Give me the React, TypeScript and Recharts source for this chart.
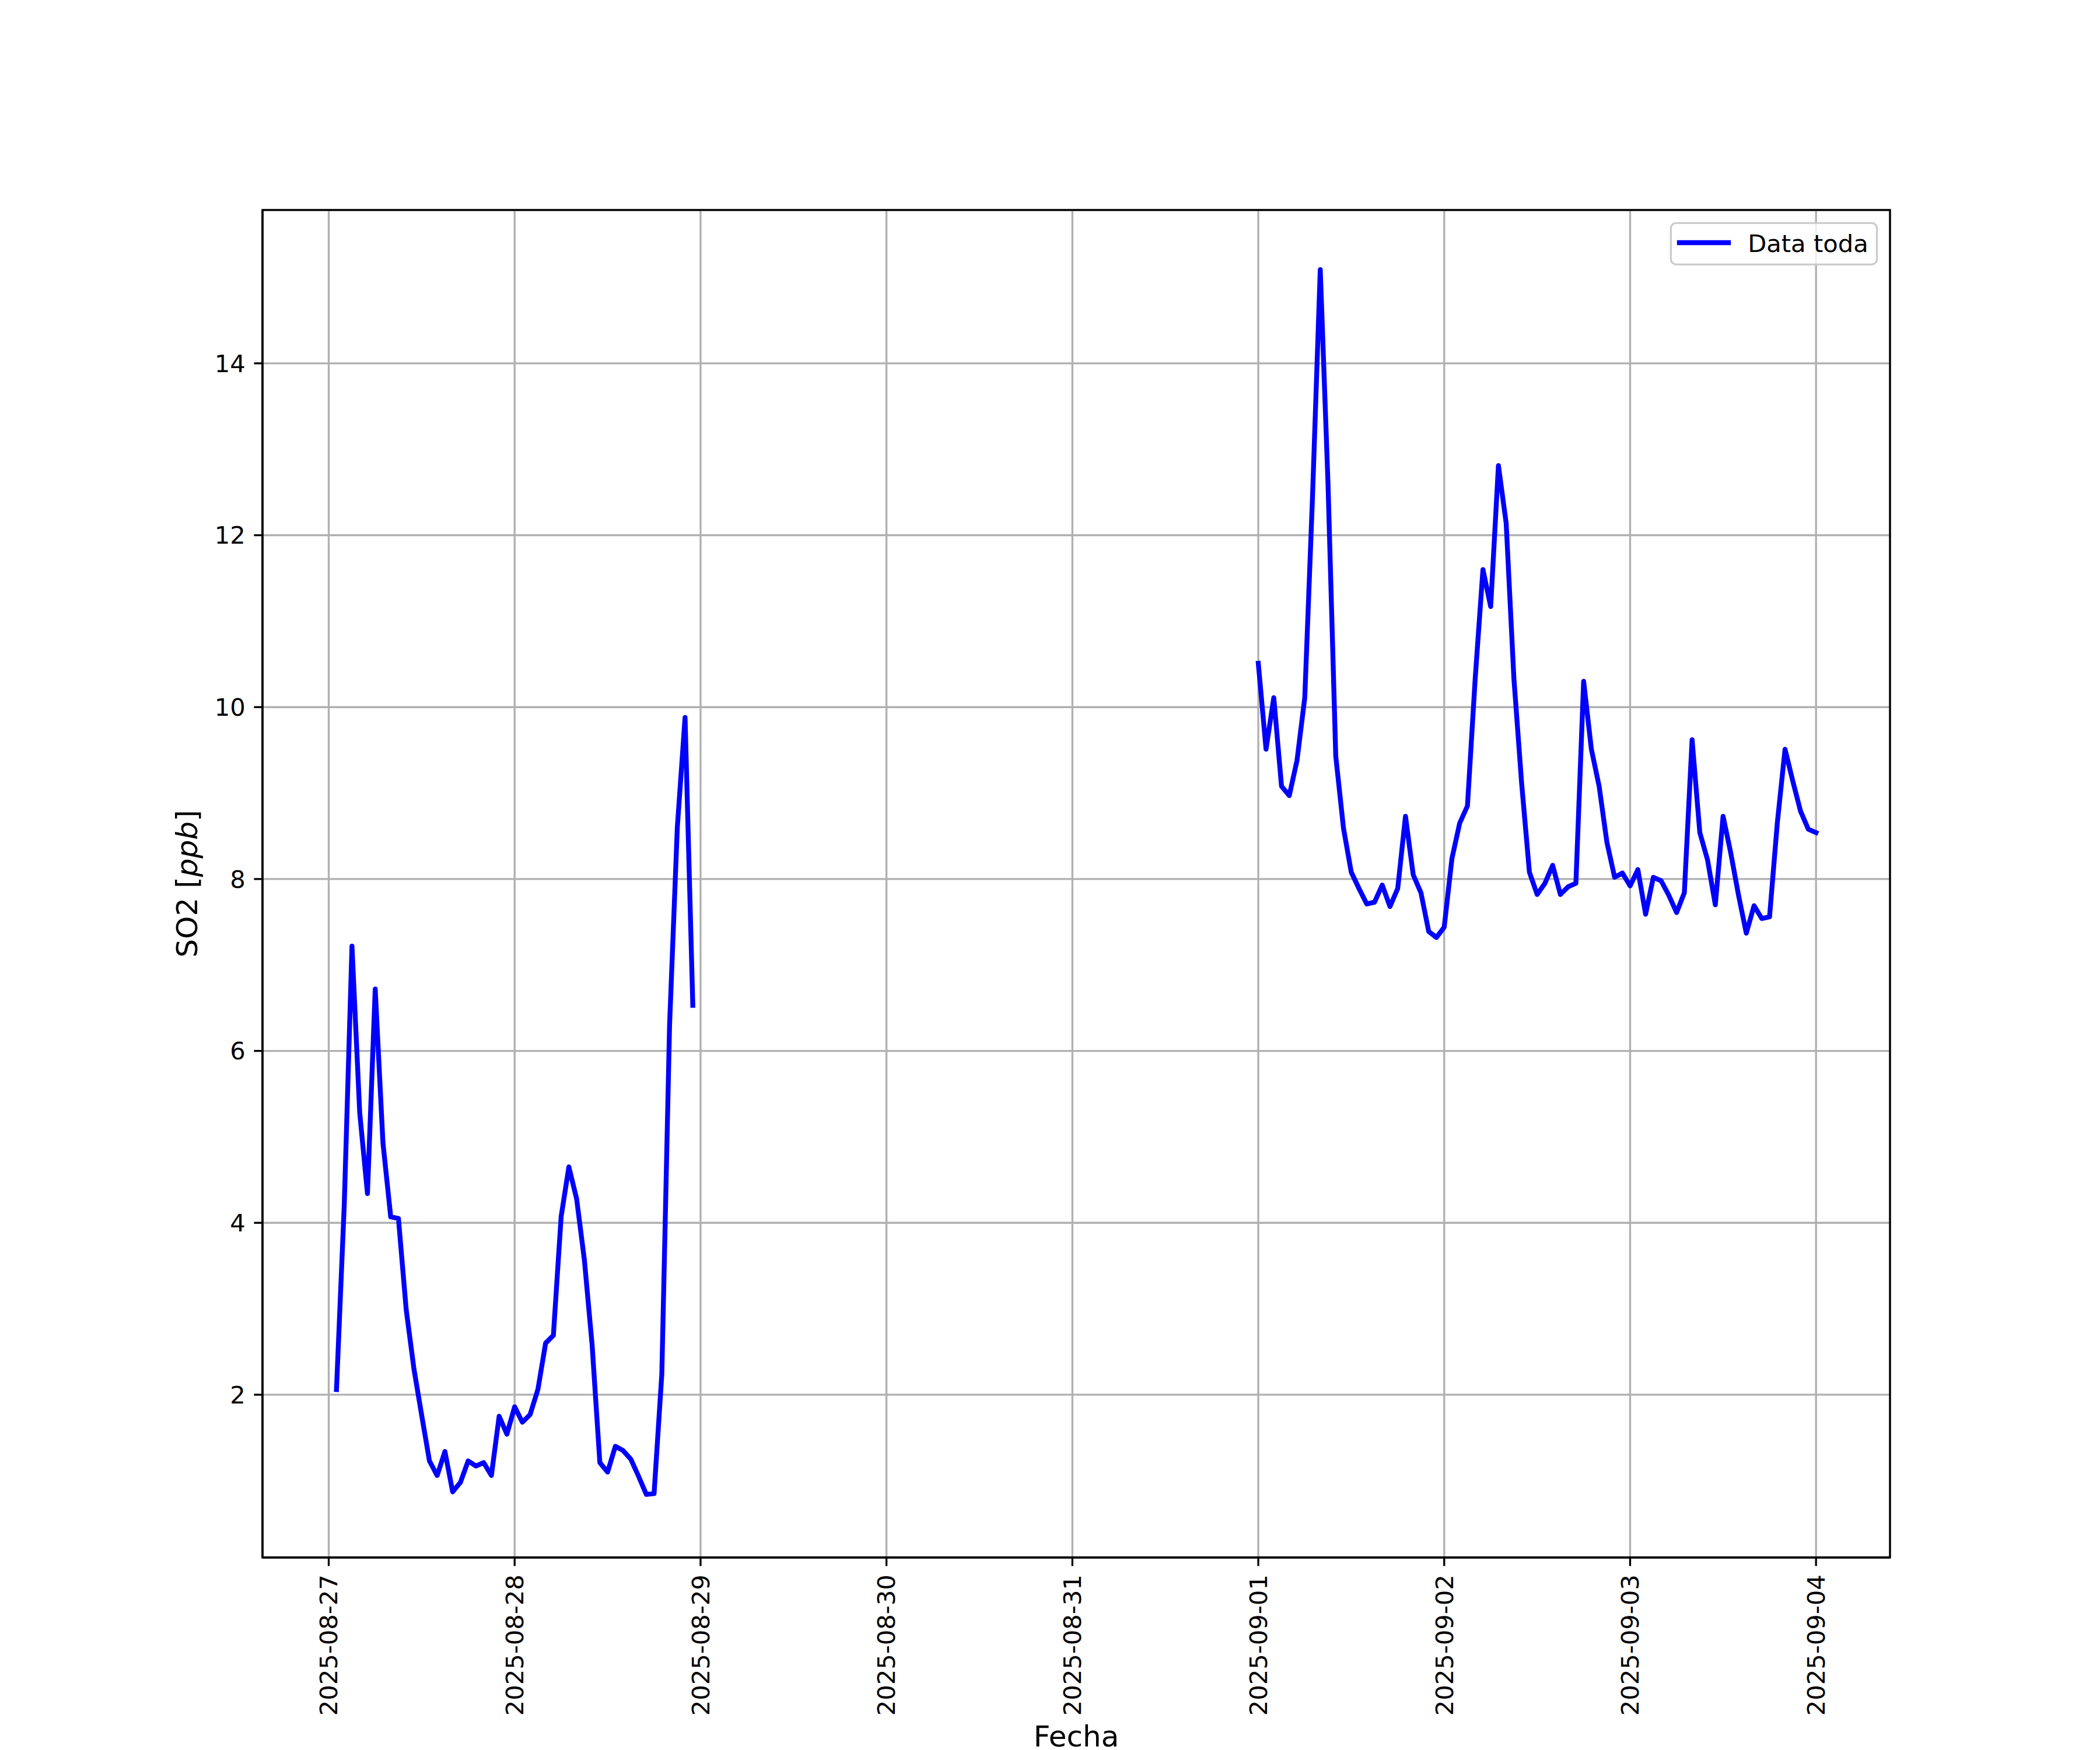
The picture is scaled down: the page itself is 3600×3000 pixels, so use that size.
import { LineChart, Line, XAxis, YAxis, CartesianGrid, Legend, Customized } from 'recharts';

// hourly SO2 readings, hours counted from 2025-08-27 00:00
const seg1Start = 1;
const seg1Values = [
  2.06, 4.2, 7.22, 5.28, 4.34, 6.72, 4.93, 4.07, 4.05, 2.99, 2.3, 1.76, 1.23, 1.06, 1.34, 0.87,
  0.98, 1.23, 1.17, 1.21, 1.06, 1.75, 1.54, 1.86, 1.68, 1.77, 2.06, 2.6, 2.69, 4.07, 4.65, 4.28,
  3.57, 2.58, 1.21, 1.1, 1.4, 1.35, 1.25, 1.05, 0.84, 0.85, 2.24, 6.3, 8.6, 9.88, 6.53,
];

const seg2Start = 120; // 2025-09-01 00:00
const seg2Values = [
  10.51, 9.51, 10.11, 9.08, 8.97, 9.38, 10.11, 12.45, 15.09, 12.6, 9.43, 8.59, 8.08, 7.89, 7.71,
  7.73, 7.93, 7.68, 7.89, 8.73, 8.05, 7.84, 7.39, 7.32, 7.44, 8.24, 8.65, 8.85, 10.33, 11.6, 11.17,
  12.81, 12.14, 10.33, 9.11, 8.08, 7.82, 7.95, 8.16, 7.82, 7.91, 7.95, 10.3, 9.51, 9.08, 8.43,
  8.02, 8.07, 7.92, 8.11, 7.59, 8.02, 7.98, 7.81, 7.61, 7.84, 9.62, 8.54, 8.22, 7.7, 8.73, 8.3,
  7.81, 7.37, 7.69, 7.54, 7.56, 8.65, 9.51, 9.14, 8.79, 8.58, 8.54,
];

const dayTicks = [0, 24, 48, 72, 96, 120, 144, 168, 192];
const dayLabels = [
  '2025-08-27', '2025-08-28', '2025-08-29', '2025-08-30', '2025-08-31',
  '2025-09-01', '2025-09-02', '2025-09-03', '2025-09-04',
];
const yTicks = [2, 4, 6, 8, 10, 12, 14];

const data = [
  ...seg1Values.map((v, i) => ({ t: seg1Start + i, so2: v as number | null })),
  { t: seg1Start + seg1Values.length, so2: null }, // gap in the record
  ...seg2Values.map((v, i) => ({ t: seg2Start + i, so2: v as number | null })),
];

const PT = 300 / 72;
const FONT = '"DejaVu Sans", sans-serif';
const W = 3600;
const H = 3000;
const LEFT = 450;
const RIGHT = 360;
const TOP = 360;
const BOTTOM = 330;

const xDomain: [number, number] = [-8.55, 201.55];
const yDomain: [number, number] = [0.106, 15.784];

function DateTick({ x, y, payload }: any) {
  const label = dayLabels[dayTicks.indexOf(payload.value)];
  return (
    <text
      x={x}
      y={y}
      transform={`rotate(-90, ${x}, ${y})`}
      textAnchor="end"
      dy="0.355em"
      fontSize={10 * PT}
      fontFamily={FONT}
      fill="#000"
    >
      {label}
    </text>
  );
}

function FechaLabel() {
  return (
    <text x={LEFT + (W - LEFT - RIGHT) / 2} y={2994} textAnchor="middle" fontSize={12 * PT} fontFamily={FONT} fill="#000">
      Fecha
    </text>
  );
}

function So2Label() {
  const cx = 338;
  const cy = TOP + (H - TOP - BOTTOM) / 2;
  return (
    <text x={cx} y={cy} transform={`rotate(-90, ${cx}, ${cy})`} textAnchor="middle" fontSize={12 * PT} fontFamily={FONT} fill="#000">
      SO2 [<tspan fontStyle="italic">ppb</tspan>]
    </text>
  );
}

// black frame around the plot area (matplotlib spines)
function Frame() {
  return (
    <rect
      x={LEFT}
      y={TOP}
      width={W - LEFT - RIGHT}
      height={H - TOP - BOTTOM}
      fill="none"
      stroke="#000"
      strokeWidth={0.8 * PT}
    />
  );
}

function LegendBox({ payload }: any) {
  const item = payload && payload[0];
  return (
    <svg width={360} height={80} style={{ display: 'block' }}>
      <rect x={2.4} y={2.4} width={353.2} height={70.9} rx={9} fill="rgba(255,255,255,0.8)" stroke="#cccccc" strokeWidth={0.8 * PT} />
      <line x1={17} x2={101} y1={36} y2={36} stroke={item ? item.color : '#0000ff'} strokeWidth={2 * PT} strokeLinecap="square" />
      <text x={134.2} y={51.7} fontSize={10 * PT} fontFamily={FONT} fill="#000">
        {item ? item.value : 'Data toda'}
      </text>
    </svg>
  );
}

export default function App() {
  const frame = { stroke: '#000', strokeWidth: 0.8 * PT };
  return (
    <div style={{ position: 'absolute', left: 0, top: 0, width: W, height: H, background: '#fff' }}>
      <LineChart width={W} height={H} data={data} margin={{ top: TOP, right: RIGHT, left: 0, bottom: 0 }}>
        <CartesianGrid stroke="#b0b0b0" strokeWidth={0.8 * PT} />
        <XAxis
          dataKey="t"
          type="number"
          domain={xDomain}
          allowDataOverflow
          ticks={dayTicks}
          interval={0}
          tick={<DateTick />}
          tickSize={3.5 * PT}
          tickMargin={3.5 * PT}
          tickLine={frame}
          axisLine={frame}
          height={BOTTOM}
          label={<FechaLabel />}
        />
        <YAxis
          type="number"
          domain={yDomain}
          allowDataOverflow
          ticks={yTicks}
          interval={0}
          tick={{ fontSize: 10 * PT, fontFamily: FONT, fill: '#000' }}
          tickSize={3.5 * PT}
          tickMargin={3.5 * PT}
          tickLine={frame}
          axisLine={frame}
          width={LEFT}
          label={<So2Label />}
        />
        <Customized component={Frame} />
        <Legend
          layout="vertical"
          align="center"
          verticalAlign="middle"
          content={(props: any) => <LegendBox {...props} />}
          wrapperStyle={{ position: 'absolute', left: 2862, top: 380, width: 360, height: 80 }}
        />
        <Line
          type="linear"
          dataKey="so2"
          name="Data toda"
          stroke="#0000ff"
          strokeWidth={2 * PT}
          strokeLinejoin="round"
          strokeLinecap="square"
          dot={false}
          activeDot={false}
          connectNulls={false}
          isAnimationActive={false}
        />
      </LineChart>
    </div>
  );
}
